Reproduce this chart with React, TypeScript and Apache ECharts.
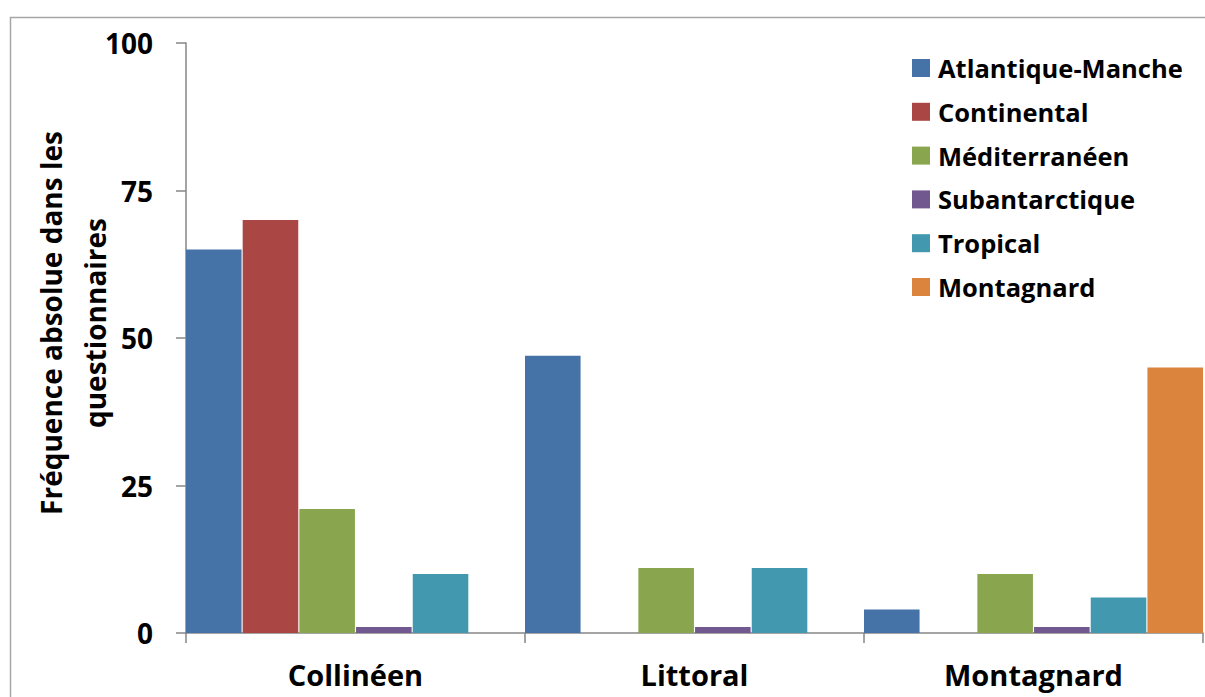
import React, { useEffect, useRef } from "react";
import * as echarts from "echarts";

const categories = ["Collinéen", "Littoral", "Montagnard"];
const seriesNames = ["Atlantique-Manche", "Continental", "Méditerranéen", "Subantarctique", "Tropical", "Montagnard"];
const atlantique = [65, 47, 4];
const continental = [70, 0, 0];
const mediterraneen = [21, 11, 10];
const subantarctique = [1, 1, 1];
const tropical = [10, 11, 6];
const montagnard = [0, 0, 45];
const colors = ["#4572A7", "#AA4643", "#89A54E", "#71588F", "#4198AF", "#DB843D"];
const yTicks = [0, 25, 50, 75, 100];

const FONT = "'Open Sans', Lato, sans-serif";

export default function App() {
  const ref = useRef<HTMLDivElement>(null);
  useEffect(() => {
    if (!ref.current) return;
    const chart = echarts.init(ref.current, null, { renderer: "svg" });
    const values = [atlantique, continental, mediterraneen, subantarctique, tropical, montagnard];
    chart.setOption({
      animation: false,
      backgroundColor: "#ffffff",
      textStyle: { fontFamily: FONT },
      grid: { left: 186, right: 2, top: 43, bottom: 64, containLabel: false },
      legend: {
        orient: "vertical",
        left: 912,
        top: 55,
        padding: 0,
        itemWidth: 18,
        itemHeight: 18,
        itemGap: 17.8,
        icon: "rect",
        textStyle: { fontFamily: FONT, fontWeight: "bold", fontSize: 25.5, color: "#000", padding: [0, 0, 0, 3] },
        data: seriesNames,
      },
      xAxis: {
        type: "category",
        data: categories,
        boundaryGap: true,
        axisLine: { lineStyle: { color: "#868686", width: 1.5 } },
        axisTick: { show: true, alignWithLabel: false, length: 10, lineStyle: { color: "#868686", width: 1.5 } },
        axisLabel: { fontFamily: FONT, fontWeight: "bold", fontSize: 29, color: "#000", margin: 27 },
        splitLine: { show: false },
      },
      yAxis: {
        type: "value",
        min: yTicks[0],
        max: yTicks[yTicks.length - 1],
        interval: 25,
        axisLine: { show: true, lineStyle: { color: "#868686", width: 1.5 } },
        axisTick: { show: true, length: 10, lineStyle: { color: "#868686", width: 1.5 } },
        axisLabel: { fontFamily: FONT, fontWeight: "bold", fontSize: 28, color: "#000", margin: 33 },
        splitLine: { show: false },
      },
      graphic: [
        {
          type: "rect",
          silent: true,
          shape: { x: 10.5, y: 17.5, width: 1400, height: 1000 },
          style: { fill: "none", stroke: "#a6a6a6", lineWidth: 1.5 },
          z: 100,
        },
        {
          type: "text",
          x: 73,
          y: 323,
          rotation: Math.PI / 2,
          style: {
            text: "Fréquence absolue dans les\nquestionnaires",
            align: "center",
            verticalAlign: "middle",
            fontFamily: FONT,
            fontWeight: "bold",
            fontSize: 28,
            lineHeight: 44,
            fill: "#000",
          },
        },
      ],
      series: seriesNames.map((name, i) => ({
        name,
        type: "bar",
        data: values[i],
        barGap: "2%",
        barCategoryGap: "0%",
        itemStyle: { color: colors[i] },
      })),
    });
    return () => chart.dispose();
  }, []);
  return <div ref={ref} style={{ position: "absolute", left: 0, top: 0, width: 1205, height: 697 }} />;
}
